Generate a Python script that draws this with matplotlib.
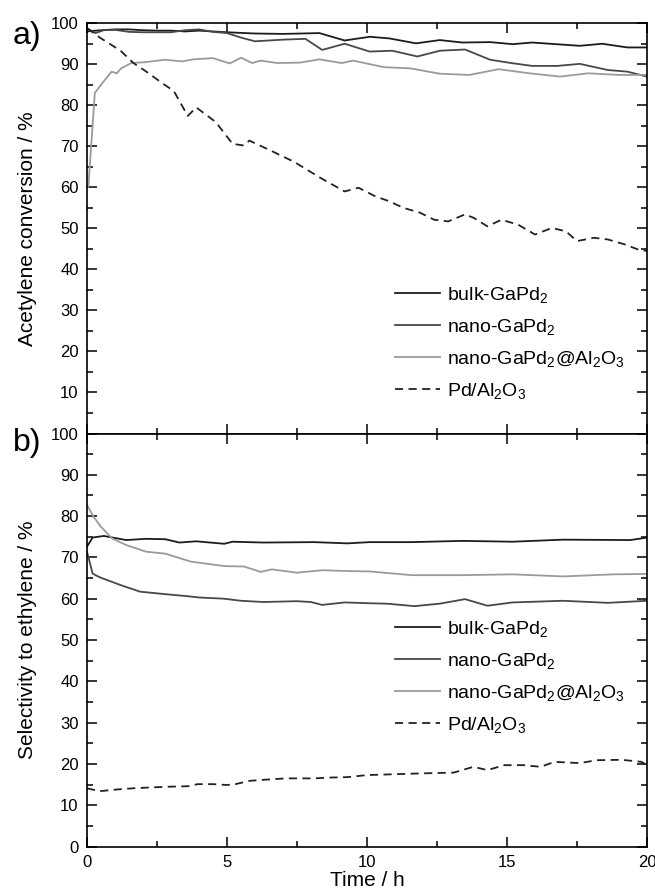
import matplotlib
matplotlib.use("Agg")
import matplotlib.pyplot as plt
from matplotlib.ticker import MultipleLocator

plt.rcParams['font.family'] = ['Liberation Sans', 'DejaVu Sans']
plt.rcParams['mathtext.default'] = 'regular'

# --- conversion (panel a) ---
bulk_conv_t = [0, 0.5, 1, 1.5, 2, 2.5, 3, 3.5, 4, 4.5, 5, 6, 7, 8.3, 9.2, 10.1, 10.8, 11.75, 12.6,
               13.4, 14.4, 15.2, 15.9, 17.6, 18.4, 19.3, 20]
bulk_conv = [98.0, 98.3, 98.5, 98.5, 98.3, 98.2, 98.2, 98.0, 98.2, 98.0, 97.8, 97.5, 97.4, 97.6, 95.8,
             96.7, 96.3, 95.1, 95.9, 95.3, 95.4, 94.9, 95.3, 94.5, 95.0, 94.1, 94.1]

nano_conv_t = [0, 0.3, 0.6, 1, 1.5, 2, 2.5, 3, 3.5, 4, 4.5, 5, 5.5, 6, 7, 7.8, 8.4, 9.2, 10.1, 10.9,
               11.8, 12.6, 13.5, 14.4, 15.15, 15.9, 16.8, 17.6, 18.6, 19.3, 20]
nano_conv = [98.8, 97.6, 98.3, 98.4, 97.9, 97.8, 97.8, 97.8, 98.3, 98.5, 97.9, 97.6, 96.5, 95.6, 96.0,
             96.2, 93.5, 95.0, 93.1, 93.3, 91.9, 93.3, 93.6, 91.1, 90.3, 89.6, 89.6, 90.1, 88.6, 88.2, 87.0]

al_conv_t = [0.05, 0.28, 0.5, 0.88, 1.06, 1.22, 1.58, 2.06, 2.78, 3.4, 3.8, 4.5, 5.1, 5.5, 5.9, 6.2,
             6.8, 7.6, 8.3, 9.1, 9.5, 10.6, 11.55, 12.6, 13.65, 14.7, 15.8, 16.9, 17.9, 19, 20]
al_conv = [60.2, 83.0, 85.0, 88.2, 87.8, 89.0, 90.3, 90.5, 91.1, 90.7, 91.2, 91.5, 90.2, 91.6, 90.3,
           90.9, 90.3, 90.4, 91.2, 90.3, 90.9, 89.3, 89.0, 87.7, 87.4, 88.8, 87.8, 87.0, 87.8, 87.4, 87.4]

pd_conv_t = [0, 0.46, 1.2, 1.66, 2.1, 2.75, 3.1, 3.6, 3.9, 4.6, 5.2, 5.6, 5.8, 6.55, 7.4, 8.34, 9.2,
             9.7, 10.3, 10.8, 11.3, 11.9, 12.4, 12.9, 13.5, 13.8, 14.3, 14.8, 15.4, 16.0, 16.6, 17.1,
             17.5, 18.1, 18.6, 19.2, 19.7, 20]
pd_conv = [98.8, 96.5, 93.3, 90.3, 88.3, 85.1, 83.5, 77.4, 79.5, 75.9, 70.6, 70.2, 71.4, 69.0, 66.2,
           62.3, 59.0, 59.9, 57.8, 56.6, 55.0, 53.8, 52.1, 51.7, 53.4, 52.6, 50.5, 52.1, 50.9, 48.5,
           50.1, 49.3, 46.9, 47.7, 47.3, 46.1, 44.8, 44.5]

# --- selectivity (panel b) ---
bulk_sel_t = [0, 0.2, 0.6, 1.4, 2.1, 2.8, 3.3, 3.9, 4.9, 5.2, 6.3, 8.1, 9.3, 10.1, 11.6, 13.4, 15.2,
              17.0, 19.4, 20]
bulk_sel = [72.6, 74.8, 75.2, 74.2, 74.5, 74.4, 73.6, 73.9, 73.3, 73.8, 73.6, 73.7, 73.4, 73.7, 73.7,
            74.0, 73.8, 74.3, 74.2, 74.8]

nano_sel_t = [0, 0.2, 0.45, 1.2, 1.9, 2.8, 3.6, 4.0, 4.9, 5.5, 6.3, 7.5, 8.0, 8.4, 9.2, 10.1, 10.7,
              11.7, 12.6, 13.5, 14.3, 15.2, 17.0, 18.6, 20]
nano_sel = [71.4, 66.1, 65.2, 63.3, 61.7, 61.1, 60.6, 60.3, 60.0, 59.5, 59.2, 59.4, 59.2, 58.5, 59.1,
            58.9, 58.8, 58.2, 58.8, 59.9, 58.3, 59.1, 59.5, 59.0, 59.5]

al_sel_t = [0, 0.23, 0.5, 0.9, 1.4, 2.1, 2.8, 3.7, 4.9, 5.6, 6.2, 6.6, 7.5, 8.4, 9.3, 10.1, 11.6, 13.4,
            15.2, 17.0, 18.8, 20]
al_sel = [82.7, 79.9, 77.4, 74.6, 73.0, 71.4, 70.9, 69.0, 67.9, 67.8, 66.5, 67.1, 66.3, 66.9, 66.7,
          66.6, 65.7, 65.7, 65.9, 65.4, 65.9, 66.0]

pd_sel_t = [0, 0.45, 1.05, 1.65, 2.25, 3.0, 3.6, 3.95, 4.5, 5.0, 5.3, 5.8, 6.4, 7.1, 8.1, 8.7, 9.3,
            10.0, 11.9, 13.1, 13.8, 14.3, 14.9, 15.6, 16.2, 16.7, 17.6, 18.2, 19.1, 19.8, 20]
pd_sel = [14.1, 13.4, 13.8, 14.1, 14.3, 14.5, 14.6, 15.1, 15.1, 14.9, 15.1, 15.9, 16.2, 16.5, 16.5,
          16.7, 16.8, 17.3, 17.7, 17.9, 19.3, 18.5, 19.7, 19.7, 19.3, 20.5, 20.2, 20.9, 21.0, 20.5, 19.7]

labels = ["bulk-GaPd$_2$", "nano-GaPd$_2$", "nano-GaPd$_2$@Al$_2$O$_3$", "Pd/Al$_2$O$_3$"]
colors = ["#1c1c1c", "#484848", "#9a9a9a", "#222222"]
dash = (0, (4.5, 3))

fig = plt.figure(figsize=(6.55, 8.94), dpi=100)
ax1 = fig.add_axes([0.1328, 0.5151, 0.855, 0.4589])
ax2 = fig.add_axes([0.1328, 0.0531, 0.855, 0.4620])

panels = [
    (ax1, [(bulk_conv_t, bulk_conv), (nano_conv_t, nano_conv), (al_conv_t, al_conv), (pd_conv_t, pd_conv)],
     "Acetylene conversion / %", "a)", 0.969, 0.221),
    (ax2, [(bulk_sel_t, bulk_sel), (nano_sel_t, nano_sel), (al_sel_t, al_sel), (pd_sel_t, pd_sel)],
     "Selectivity to ethylene / %", "b)", 0.976, 0.41),
]

for ax, series, ylab, tag, tag_y, leg_y in panels:
    for i, (t, v) in enumerate(series):
        ls = dash if i == 3 else '-'
        ax.plot(t, v, color=colors[i], lw=1.3, ls=ls, label=labels[i])
    ax.set_xlim(0, 20)
    ax.set_ylim(0, 100)
    ax.xaxis.set_major_locator(MultipleLocator(5))
    ax.xaxis.set_minor_locator(MultipleLocator(2.5))
    ax.yaxis.set_major_locator(MultipleLocator(10))
    ax.yaxis.set_minor_locator(MultipleLocator(5))
    ax.tick_params(which='both', direction='in', top=True, right=True, labelsize=12, width=1.1, pad=6)
    ax.tick_params(which='major', length=7)
    ax.tick_params(which='minor', length=4)
    for s in ax.spines.values():
        s.set_linewidth(1.2)
    ax.set_ylabel(ylab, fontsize=15)
    ax.yaxis.set_label_coords(-0.089, 0.5)
    ax.text(-0.107, tag_y, tag, transform=ax.transAxes, fontsize=23, ha='center', va='center')
    ax.legend(loc='center left', bbox_to_anchor=(0.55, leg_y), frameon=False, fontsize=14,
              handlelength=2.3, handletextpad=0.35, labelspacing=0.62, borderaxespad=0,
              borderpad=0)

ax1.tick_params(labelbottom=False)
ax1.set_yticks(range(10, 101, 10))
ax2.set_xlabel("Time / h", fontsize=15, labelpad=1)

fig.savefig("out.png", dpi=100)
